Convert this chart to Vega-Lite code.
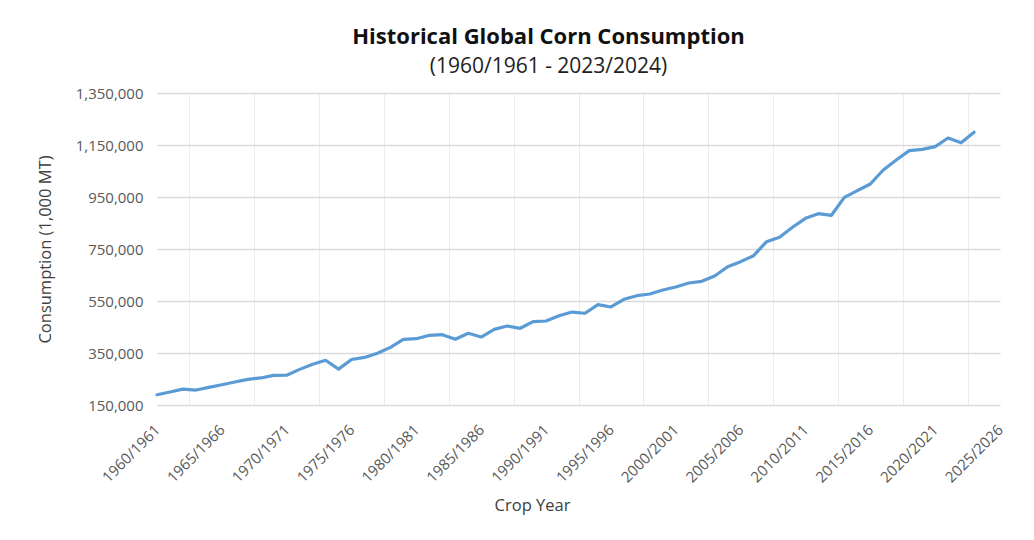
{
  "$schema": "https://vega.github.io/schema/vega-lite/v6.json",
  "width": 843,
  "height": 312,
  "autosize": "none",
  "padding": {"left": 157, "top": 93, "right": 34, "bottom": 135},
  "background": "white",
  "config": {
    "font": "Open Sans",
    "view": {"stroke": null}
  },
  "title": {
    "text": "Historical Global Corn Consumption",
    "subtitle": "(1960/1961 - 2023/2024)",
    "font": "Open Sans",
    "fontSize": 22,
    "fontWeight": "bold",
    "color": "#111111",
    "subtitleFont": "Open Sans",
    "subtitleFontSize": 21,
    "subtitleColor": "#222222",
    "subtitlePadding": 7,
    "anchor": "middle",
    "frame": "group",
    "dx": -30,
    "offset": 8
  },
  "data": {
    "values": [
      {"year": 1960, "consumption": 189600},
      {"year": 1961, "consumption": 200000},
      {"year": 1962, "consumption": 211000},
      {"year": 1963, "consumption": 207500},
      {"year": 1964, "consumption": 218000},
      {"year": 1965, "consumption": 228000},
      {"year": 1966, "consumption": 238500},
      {"year": 1967, "consumption": 248800},
      {"year": 1968, "consumption": 254000},
      {"year": 1969, "consumption": 264000},
      {"year": 1970, "consumption": 264500},
      {"year": 1971, "consumption": 287000},
      {"year": 1972, "consumption": 306500},
      {"year": 1973, "consumption": 322000},
      {"year": 1974, "consumption": 288000},
      {"year": 1975, "consumption": 325000},
      {"year": 1976, "consumption": 333000},
      {"year": 1977, "consumption": 348800},
      {"year": 1978, "consumption": 371800},
      {"year": 1979, "consumption": 402600},
      {"year": 1980, "consumption": 405000},
      {"year": 1981, "consumption": 418000},
      {"year": 1982, "consumption": 420600},
      {"year": 1983, "consumption": 402600},
      {"year": 1984, "consumption": 425700},
      {"year": 1985, "consumption": 411500},
      {"year": 1986, "consumption": 441000},
      {"year": 1987, "consumption": 453800},
      {"year": 1988, "consumption": 445000},
      {"year": 1989, "consumption": 470400},
      {"year": 1990, "consumption": 473000},
      {"year": 1991, "consumption": 493500},
      {"year": 1992, "consumption": 507500},
      {"year": 1993, "consumption": 503000},
      {"year": 1994, "consumption": 535800},
      {"year": 1995, "consumption": 527000},
      {"year": 1996, "consumption": 556500},
      {"year": 1997, "consumption": 570400},
      {"year": 1998, "consumption": 577000},
      {"year": 1999, "consumption": 592300},
      {"year": 2000, "consumption": 603800},
      {"year": 2001, "consumption": 619200},
      {"year": 2002, "consumption": 625700},
      {"year": 2003, "consumption": 646000},
      {"year": 2004, "consumption": 682000},
      {"year": 2005, "consumption": 701300},
      {"year": 2006, "consumption": 724300},
      {"year": 2007, "consumption": 778200},
      {"year": 2008, "consumption": 795000},
      {"year": 2009, "consumption": 833500},
      {"year": 2010, "consumption": 868000},
      {"year": 2011, "consumption": 885800},
      {"year": 2012, "consumption": 879600},
      {"year": 2013, "consumption": 948800},
      {"year": 2014, "consumption": 974300},
      {"year": 2015, "consumption": 1000000},
      {"year": 2016, "consumption": 1053800},
      {"year": 2017, "consumption": 1092300},
      {"year": 2018, "consumption": 1128200},
      {"year": 2019, "consumption": 1133400},
      {"year": 2020, "consumption": 1143600},
      {"year": 2021, "consumption": 1176900},
      {"year": 2022, "consumption": 1158800},
      {"year": 2023, "consumption": 1199000}
    ]
  },
  "layer": [
    {
      "mark": {"type": "line", "opacity": 0},
      "encoding": {
        "x": {
          "field": "year",
          "type": "quantitative",
          "scale": {"domain": [1960, 2025], "nice": false, "zero": false},
          "axis": {
            "orient": "bottom",
            "title": null,
            "labels": false,
            "ticks": false,
            "domain": false,
            "grid": true,
            "gridColor": "#ececec",
            "gridWidth": 1,
            "values": [1962.5, 1967.5, 1972.5, 1977.5, 1982.5, 1987.5, 1992.5, 1997.5, 2002.5, 2007.5, 2012.5, 2017.5, 2022.5]
          }
        },
        "y": {
          "field": "consumption",
          "type": "quantitative",
          "scale": {"domain": [150000, 1350000], "nice": false, "zero": false},
          "axis": {
            "title": "Consumption (1,000 MT)",
            "titleFont": "Open Sans",
            "titleFontSize": 16.5,
            "titleFontWeight": "normal",
            "titleColor": "#404040",
            "titleAngle": -90,
            "titleBaseline": "bottom",
            "titleAlign": "center",
            "titleX": -104,
            "titleY": 156,
            "values": [150000, 350000, 550000, 750000, 950000, 1150000, 1350000],
            "format": ",d",
            "labelFont": "Open Sans",
            "labelFontSize": 15,
            "labelColor": "#595959",
            "labelPadding": 14,
            "tickSize": 0,
            "ticks": false,
            "domain": false,
            "grid": true,
            "gridColor": "#d9d9d9",
            "gridWidth": 1.3
          }
        }
      }
    },
    {
      "mark": {"type": "line", "color": "#5B9BD5", "strokeWidth": 3.2, "strokeJoin": "round", "strokeCap": "round"},
      "encoding": {
        "x": {
          "field": "year",
          "type": "quantitative",
          "axis": {
            "orient": "bottom",
            "title": "Crop Year",
            "titleFont": "Open Sans",
            "titleFontSize": 16.5,
            "titleFontWeight": "normal",
            "titleColor": "#404040",
            "titleX": 375,
            "titleY": 92,
            "titleBaseline": "top",
            "titleAlign": "center",
            "values": [1960, 1965, 1970, 1975, 1980, 1985, 1990, 1995, 2000, 2005, 2010, 2015, 2020, 2025],
            "labelExpr": "datum.value + '/' + (datum.value + 1)",
            "labelAngle": -45,
            "labelAlign": "right",
            "labelBaseline": "middle",
            "labelFont": "Open Sans",
            "labelFontSize": 15,
            "labelColor": "#595959",
            "labelPadding": 22,
            "labelOverlap": false,
            "labelFlush": false,
            "labelBound": false,
            "tickSize": 0,
            "ticks": false,
            "domain": false,
            "grid": false
          }
        },
        "y": {
          "field": "consumption",
          "type": "quantitative"
        }
      }
    }
  ],
  "resolve": {"axis": {"x": "independent"}}
}
